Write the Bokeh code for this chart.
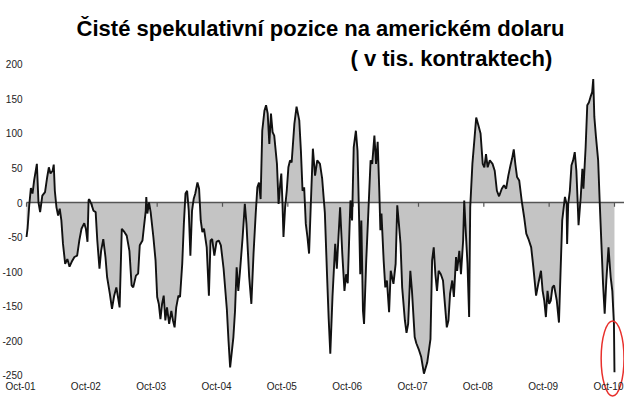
from bokeh.plotting import figure
from bokeh.models import Range1d, Label, ColumnDataSource
from bokeh.core.properties import value
from bokeh.embed import file_html
from bokeh.resources import INLINE

# --- data (months since Oct-2001, net speculative USD positions in thousands of contracts)
months = [
    0.0, 0.2, 0.5, 0.8, 1.1, 1.4, 1.9, 2.2, 2.5, 2.9,
    3.4, 3.8, 4.1, 4.4, 4.8, 5.0, 5.2, 5.5, 5.8, 6.1,
    6.4, 6.7, 7.1, 7.5, 7.9, 8.3, 8.8, 9.3, 9.7, 10.1,
    10.6, 10.9, 11.2, 11.4, 11.5, 11.9, 12.3, 12.7, 13.0, 13.4,
    13.7, 14.1, 14.5, 14.8, 15.3, 15.7, 16.1, 16.5, 16.8, 17.1,
    17.5, 18.0, 18.4, 18.9, 19.3, 19.6, 20.1, 20.5, 20.8, 21.3,
    21.6, 21.9, 22.0, 22.2, 22.5, 22.8, 23.3, 23.7, 24.0, 24.3,
    24.6, 24.9, 25.2, 25.5, 25.8, 26.2, 26.6, 26.9, 27.2, 27.5,
    27.9, 28.2, 28.6, 28.9, 29.2, 29.5, 29.8, 30.1, 30.4, 30.7,
    31.0, 31.4, 31.7, 32.0, 32.3, 32.6, 33.1, 33.5, 33.8, 34.1,
    34.5, 34.9, 35.3, 35.7, 36.2, 36.8, 37.1, 37.4, 38.0, 38.3,
    38.6, 38.9, 39.2, 39.7, 40.1, 40.4, 40.9, 41.3, 41.7, 42.1,
    42.4, 42.7, 43.0, 43.3, 43.7, 44.0, 44.3, 44.6, 44.9, 45.2,
    45.5, 46.0, 46.3, 46.6, 46.8, 47.0, 47.2, 47.5, 47.8, 48.1,
    48.4, 48.7, 49.2, 49.6, 50.1, 50.4, 50.7, 51.0, 51.3, 51.6,
    51.9, 52.2, 52.6, 53.0, 53.4, 53.9, 54.3, 54.8, 55.2, 55.5,
    55.8, 56.2, 56.7, 57.0, 57.3, 57.6, 58.0, 58.4, 58.7, 59.0,
    59.3, 59.5, 59.8, 60.1, 60.5, 60.8, 61.1, 61.3, 61.5, 61.8,
    62.0, 62.4, 62.8, 63.2, 63.5, 63.9, 64.2, 64.5, 64.8, 65.0,
    65.2, 65.6, 65.9, 66.2, 66.6, 66.9, 67.4, 67.8, 68.1, 68.4,
    68.7, 69.0, 69.5, 69.8, 70.1, 70.5, 70.8, 71.3, 71.6, 72.1,
    72.5, 73.0, 73.6, 74.2, 74.5, 74.8, 75.1, 75.4, 75.7, 76.1,
    76.5, 76.9, 77.2, 77.5, 77.8, 78.2, 78.5, 78.9, 79.1, 79.5,
    79.8, 80.2, 80.4, 80.7, 81.0, 81.3, 81.5, 81.9, 82.3, 82.6,
    83.0, 83.4, 83.8, 84.1, 84.4, 84.7, 85.1, 85.6, 86.0, 86.4,
    86.8, 87.3, 87.7, 88.1, 88.5, 88.9, 89.2, 89.5, 89.8, 90.1,
    90.5, 91.0, 91.4, 91.8, 92.2, 92.7, 93.1, 93.6, 94.0, 94.5,
    94.8, 95.1, 95.4, 95.7, 96.0, 96.3, 96.6, 96.9, 97.4, 97.8,
    98.1, 98.4, 98.9, 99.2, 99.3, 99.5, 99.8, 100.1, 100.4, 100.7,
    101.0, 101.2, 101.4, 101.8, 102.1, 102.3, 102.7, 103.0, 103.3, 103.6,
    103.9, 104.1, 104.3, 104.6, 105.0, 105.3, 105.6, 105.9, 106.2, 106.5,
    106.9, 107.3, 107.6, 107.9, 108.0,
]
net_positions = [
    -50, -37, -4, 21, 13, 32, 56, 0, -14, 10,
    15, 37, 51, 42, 46, 55, 17, -7, -19, -9,
    -26, -60, -89, -82, -93, -86, -79, -77, -55, -38,
    -30, -38, -57, 3, 5, -2, -12, -14, -55, -96,
    -70, -53, -79, -108, -132, -154, -135, -123, -137, -152,
    -38, -43, -48, -70, -120, -123, -106, -103, -62, -55,
    -33, -12, 8, -16, 0, -14, -50, -84, -137, -147,
    -169, -147, -135, -171, -152, -176, -157, -171, -181, -152,
    -135, -137, -89, -31, 13, 17, -12, -77, -12, 5,
    13, 29, 20, -26, -43, -38, -65, -135, -55, -53,
    -77, -57, -55, -62, -96, -155, -200, -239, -195, -157,
    -94, -128, -101, -50, -2, -31, -108, -147, -74, -16,
    22, 29, 5, 104, 133, 141, 129, 85, 129, 102,
    97, 56, -2, 27, 42, 3, -50, -7, 17, 51,
    61, 58, 114, 139, 119, 75, 17, 22, -31, -50,
    -74, -7, 78, 39, 61, 56, 35, -15, -105, -168,
    -219, -137, -60, -96, -50, -7, -74, -128, -104, -117,
    -44, 3, -26, 80, 104, 75, -26, -104, -26, -157,
    -176, -84, -12, 61, 56, 97, 56, 88, 17, -40,
    -16, -84, -123, -113, -159, -99, -118, -89, -4, -31,
    -60, -123, -171, -189, -176, -99, -128, -195, -204, -214,
    -224, -248, -232, -198, -84, -65, -104, -128, -99, -104,
    -113, -152, -181, -171, -132, -113, -137, -79, -99, -70,
    -104, -55, 3, -45, -89, -166, -7, 56, 94, 123,
    112, 100, 56, 51, 70, 51, 61, 56, 46, 17,
    9, 20, 25, 20, 39, 54, 64, 77, 55, 37,
    32, 0, -21, -45, -53, -65, -94, -135, -118, -99,
    -128, -142, -166, -128, -147, -142, -123, -120, -142, -174,
    -99, -26, 8, -2, -60, -2, 17, 54, 61, 73,
    46, 8, -33, 8, 49, 20, 80, 141, 145, 153,
    160, 179, 124, 95, 61, -2, -60, -118, -161, -113,
    -65, -108, -128, -176, -246,
]
n = min(len(months), len(net_positions))
months = months[:n]
net_positions = net_positions[:n]

tick_months = [0, 12, 24, 36, 48, 60, 72, 84, 96, 108]
tick_labels = ["Oct-01", "Oct-02", "Oct-03", "Oct-04", "Oct-05",
               "Oct-06", "Oct-07", "Oct-08", "Oct-09", "Oct-10"]
y_ticks = [-250, -200, -150, -100, -50, 0, 50, 100, 150, 200]
y_tick_labels = [str(v) for v in y_ticks]

title_line1 = "Čisté spekulativní pozice na americkém dolaru"
title_line2 = "( v tis. kontraktech)"

FONT = "Liberation Sans"
X_START, X_END = -4.78, 109.84
Y_START, Y_END = -292.75, 292.75
XLABEL_Y = -266.7      # level of the category labels (below the plotted values)
YLABEL_X = -0.73       # right edge of the value labels (just left of the first week)

p = figure(width=624, height=404, output_backend="svg", toolbar_location=None,
           title=None, x_axis_location=None, y_axis_location=None,
           x_range=Range1d(X_START, X_END), y_range=Range1d(Y_START, Y_END),
           min_border_left=0, min_border_right=0, min_border_top=0,
           min_border_bottom=0)
p.outline_line_color = None
p.grid.visible = False
p.background_fill_color = "white"
p.border_fill_color = "white"

src = ColumnDataSource(dict(x=months, y=net_positions, zero=[0] * n))
p.varea(x="x", y1="zero", y2="y", source=src, fill_color="#c4c4c4")

# zero axis line (from the first week to the right edge) with tick marks hanging below
p.segment(x0=[tick_months[0]], y0=[0], x1=[X_END], y1=[0],
          line_color="#555555", line_width=1.6)
tsrc = ColumnDataSource(dict(x=tick_months, y0=[0] * len(tick_months),
                             y1=[-6] * len(tick_months)))
p.segment(x0="x", y0="y0", x1="x", y1="y1", source=tsrc,
          line_color="#555555", line_width=1.2)

p.line(x="x", y="y", source=src, line_color="#111111", line_width=1.9)

# highlight of the latest observation
p.ellipse(x=[months[-1] - 0.35], y=[net_positions[-1] + 20], width=4.2, height=109,
          fill_color=None, line_color="#e8302c", line_width=1.5)

# category labels and value labels
p.text(x=tick_months, y=[XLABEL_Y] * len(tick_months), text=tick_labels,
       x_offset=-6, text_align="center", text_baseline="middle",
       text_font=value(FONT), text_font_size="10px", text_color="#222222")
p.text(x=[YLABEL_X] * len(y_ticks), y=y_ticks, text=y_tick_labels,
       text_align="right", text_baseline="middle",
       text_font=value(FONT), text_font_size="10px", text_color="#222222")

# title lines (screen units relative to the frame's bottom-left)
p.add_layout(Label(x=320, y=376, x_units="screen", y_units="screen",
                   text=title_line1, text_align="center", text_baseline="alphabetic",
                   text_font=FONT, text_font_size="22px", text_font_style="bold",
                   text_color="#000000"))
p.add_layout(Label(x=350, y=346, x_units="screen", y_units="screen",
                   text=title_line2, text_align="left", text_baseline="alphabetic",
                   text_font=FONT, text_font_size="22px", text_font_style="bold",
                   text_color="#000000"))

open("out.html", "w").write(file_html(p, INLINE))
